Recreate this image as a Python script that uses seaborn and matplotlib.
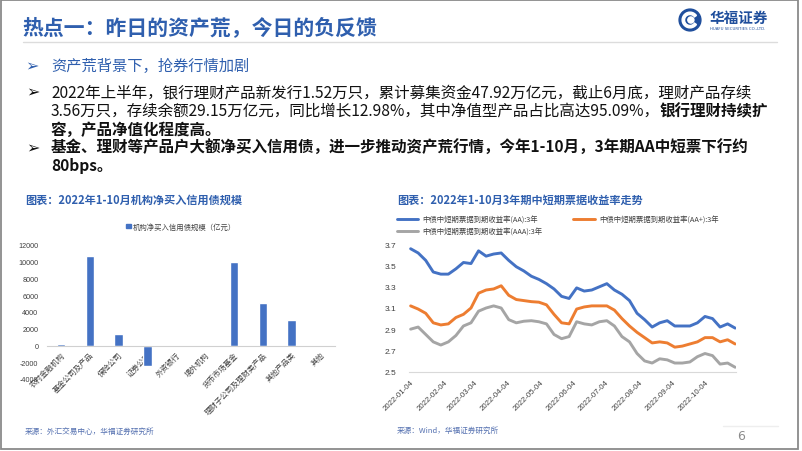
import matplotlib
matplotlib.use("Agg")
import matplotlib.pyplot as plt
import seaborn as sns
import pandas as pd
from matplotlib.patches import Rectangle, Circle, Wedge, Patch
from matplotlib.lines import Line2D

# ---------------- data ----------------
bar_categories = ['农村金融机构', '基金公司及产品', '保险公司', '证券公司', '外资银行',
                  '境外机构', '货币市场基金', '理财子公司及理财类产品', '其他产品类', '其他']
bar_values = [200, 10700, 1350, -2400, 0, -100, 10000, 5100, 3100, -100]
bar_series_name = '机构净买入信用债规模（亿元）'
bar_yticks = [-4000, -2000, 0, 2000, 4000, 6000, 8000, 10000, 12000]

line_start = '2022-01-04'
line_points = 44  # weekly readings
yield_aa = [3.66, 3.62, 3.55, 3.44, 3.42, 3.42, 3.47, 3.53, 3.52, 3.64,
            3.59, 3.61, 3.62, 3.55, 3.49, 3.45, 3.40, 3.37, 3.33, 3.28,
            3.21, 3.19, 3.29, 3.26, 3.27, 3.30, 3.33, 3.27, 3.23, 3.17,
            3.05, 2.99, 2.92, 2.96, 2.98, 2.93, 2.93, 2.93, 2.96, 3.02,
            3.00, 2.92, 2.95, 2.91]
yield_aa_plus = [3.12, 3.09, 3.05, 2.96, 2.94, 2.95, 3.01, 3.04, 3.10, 3.24,
                 3.27, 3.28, 3.31, 3.22, 3.18, 3.17, 3.16, 3.155, 3.13, 3.04,
                 2.96, 2.95, 3.09, 3.11, 3.12, 3.12, 3.12, 3.08, 3.00, 2.93,
                 2.87, 2.82, 2.77, 2.78, 2.77, 2.73, 2.74, 2.76, 2.78, 2.82,
                 2.82, 2.78, 2.80, 2.76]
yield_aaa = [2.90, 2.92, 2.85, 2.78, 2.75, 2.78, 2.84, 2.93, 2.96, 3.07,
             3.10, 3.12, 3.10, 2.99, 2.96, 2.975, 2.98, 2.97, 2.95, 2.85,
             2.81, 2.83, 2.97, 2.95, 2.94, 2.97, 2.98, 2.93, 2.83, 2.78,
             2.67, 2.60, 2.58, 2.62, 2.61, 2.58, 2.58, 2.59, 2.64, 2.67,
             2.65, 2.57, 2.58, 2.54]
line_names = ['中债中短期票据到期收益率(AA):3年',
              '中债中短期票据到期收益率(AA+):3年',
              '中债中短期票据到期收益率(AAA):3年']
line_colors = ['#4472C4', '#ED7D31', '#A5A5A5']
line_xticks = ['2022-01-04', '2022-02-04', '2022-03-04', '2022-04-04', '2022-05-04',
               '2022-06-04', '2022-07-04', '2022-08-04', '2022-09-04', '2022-10-04']
line_yticks = [2.5, 2.7, 2.9, 3.1, 3.3, 3.5, 3.7]

# ---------------- setup ----------------
sns.set_theme(style='white')
CJK = ['Noto Sans CJK SC', 'DejaVu Sans']
plt.rcParams['font.family'] = CJK
plt.rcParams['axes.unicode_minus'] = False

W, H = 802, 452
fig = plt.figure(figsize=(W / 100, H / 100), dpi=100)
fig.patch.set_facecolor('white')


def fx(x):
    return x / W


def fy(y):
    return 1 - y / H


def txt(x, y, s, **kw):
    kw.setdefault('va', 'center')
    kw.setdefault('ha', 'left')
    kw.setdefault('family', CJK)
    return fig.text(fx(x), fy(y), s, **kw)


BLUE_T = '#2f5fae'
SRC_C = '#5470b0'
BODY = 11.2

# slide frame & header
fig.add_artist(Rectangle((fx(0.8), fy(450)), 797.2 / W, 449.2 / H, transform=fig.transFigure,
                         fill=False, ec='#8a8a8a', lw=1.3))
fig.add_artist(Line2D([fx(23), fx(777)], [fy(43.3), fy(43.3)], color='#dcdcdc', lw=1))
txt(22, 27.5, '热点一：昨日的资产荒，今日的负反馈', fontsize=15, fontweight='bold', color=BLUE_T)

# logo
axl = fig.add_axes([fx(678), fy(33), 24 / W, 24 / H])
axl.set_xlim(-1.1, 1.1)
axl.set_ylim(-1.1, 1.1)
axl.set_aspect('equal')
axl.axis('off')
axl.add_patch(Circle((0, 0), 1, color='#1f4e9c'))
axl.add_patch(Wedge((0, 0), 0.72, 35, 325, width=0.22, color='white'))
axl.add_patch(Circle((0.08, 0), 0.28, color='white'))
txt(710, 17.5, '华福证券', fontsize=10.5, fontweight='bold', color='#1f4e9c')
txt(710, 29.5, 'HUAFU SECURITIES CO.,LTD.', fontsize=2.8, color='#1f4e9c', family='DejaVu Sans')

# bullets
txt(25, 66, '➢', fontsize=11.5, color=BLUE_T, fontweight='bold')
txt(51, 66, '资产荒背景下，抢券行情加剧', fontsize=11, color=BLUE_T)
txt(26, 92.5, '➢', fontsize=11.5, color='#111111', fontweight='bold')
txt(51, 92.5, '2022年上半年，银行理财产品新发行1.52万只，累计募集资金47.92万亿元，截止6月底，理财产品存续',
    fontsize=BODY, color='#111111')
t2 = txt(51, 111, '3.56万只，存续余额29.15万亿元，同比增长12.98%，其中净值型产品占比高达95.09%，',
         fontsize=BODY, color='#111111')
txt(51, 129.5, '容，产品净值化程度高。', fontsize=BODY, fontweight='bold', color='#111111')
txt(26, 148, '➢', fontsize=11.5, color='#111111', fontweight='bold')
txt(51, 148, '基金、理财等产品户大额净买入信用债，进一步推动资产荒行情，今年1-10月，3年期AA中短票下行约',
    fontsize=BODY, fontweight='bold', color='#111111')
txt(51, 166.5, '80bps。', fontsize=BODY, fontweight='bold', color='#111111')
fig.canvas.draw()
bb = t2.get_window_extent(renderer=fig.canvas.get_renderer())
txt(bb.x1, 111, '银行理财持续扩', fontsize=BODY, fontweight='bold', color='#111111')

# chart titles & sources
txt(25, 200, '图表：2022年1-10月机构净买入信用债规模', fontsize=8, fontweight='bold', color=BLUE_T)
txt(397, 200.5, '图表：2022年1-10月3年期中短期票据收益率走势', fontsize=8, fontweight='bold', color=BLUE_T)
txt(25, 433, '来源：外汇交易中心，华福证券研究所', fontsize=5.5, color=SRC_C)
txt(397, 430.5, '来源：Wind，华福证券研究所', fontsize=5.5, color=SRC_C)
fig.add_artist(Line2D([fx(723), fx(778)], [fy(427), fy(427)], color='#eeeeee', lw=1))
txt(737, 437, '6', fontsize=9, color='#8c8c8c', family='DejaVu Sans')

# ---------------- bar chart ----------------
ax1 = fig.add_axes([fx(46.6), fy(380), (335 - 46.6) / W, (380 - 246) / H])
bar_df = pd.DataFrame({'category': bar_categories, 'value': bar_values})
sns.barplot(data=bar_df, x='category', y='value', order=bar_categories, color='#4472C4',
            saturation=1, width=0.3, ax=ax1)
ax1.set_xlabel('')
ax1.set_ylabel('')
for s in ['top', 'right', 'left']:
    ax1.spines[s].set_visible(False)
ax1.spines['bottom'].set_position(('data', 0))
ax1.spines['bottom'].set_color('#d0d0d0')
ax1.spines['bottom'].set_linewidth(0.8)
ax1.set_xlim(-0.5, len(bar_categories) - 0.5)
ax1.set_ylim(bar_yticks[0], bar_yticks[-1])
ax1.set_yticks(bar_yticks, labels=[str(v) for v in bar_yticks], fontfamily='Liberation Sans',
               fontsize=5.2, color='#404040')
ax1.set_xticks(range(len(bar_categories)), labels=bar_categories, rotation=45, ha='right',
               va='top', rotation_mode='anchor', fontsize=5.5, color='#404040')
ax1.tick_params(axis='y', length=0, pad=6)
ax1.tick_params(axis='x', length=0, pad=3.5)
ax1.set_facecolor('none')
ax1.grid(False)
fig.legend(handles=[Patch(color='#4472C4')], labels=[bar_series_name], loc='center',
           bbox_to_anchor=(fx(181), fy(227.7)), bbox_transform=fig.transFigure, frameon=False,
           fontsize=5.3, handlelength=0.6, handleheight=0.6, handletextpad=0.2,
           borderpad=0, borderaxespad=0, labelcolor='#404040')

# ---------------- line chart ----------------
dates = pd.date_range(line_start, periods=line_points, freq='7D')
wide = pd.DataFrame({'date': dates, line_names[0]: yield_aa,
                     line_names[1]: yield_aa_plus, line_names[2]: yield_aaa})
long = wide.melt(id_vars='date', var_name='series', value_name='value')
ax2 = fig.add_axes([fx(409), fy(372.5), (735.7 - 409) / W, (372.5 - 245.5) / H])
sns.lineplot(data=long, x='date', y='value', hue='series', hue_order=line_names,
             palette=line_colors, linewidth=2.1, legend=False, ax=ax2)
ax2.set_xlim(dates[0] - pd.Timedelta(days=1.5), dates[-1] + pd.Timedelta(days=0.5))
ax2.set_ylim(line_yticks[0], line_yticks[-1])
ax2.set_yticks(line_yticks, labels=[f'{v:.1f}' for v in line_yticks], fontfamily='Liberation Sans',
               fontsize=6, color='#404040')
ax2.set_xticks(pd.to_datetime(line_xticks), labels=line_xticks, rotation=45, ha='right', va='top',
               rotation_mode='anchor', fontfamily='Liberation Sans', fontsize=5.6, color='#404040')
ax2.set_xlabel('')
ax2.set_ylabel('')
for s in ['top', 'right', 'left']:
    ax2.spines[s].set_visible(False)
ax2.spines['bottom'].set_color('#d9d9d9')
ax2.spines['bottom'].set_linewidth(0.8)
ax2.tick_params(axis='y', length=0, pad=9)
ax2.tick_params(axis='x', length=0, pad=5)
ax2.set_facecolor('none')
ax2.grid(False)

handles = [Line2D([], [], color=c, lw=2.1) for c in line_colors]
order = [0, 2, 1]
fig.legend(handles=[handles[i] for i in order], labels=[line_names[i] for i in order],
           loc='upper left', ncol=2, bbox_to_anchor=(fx(397), fy(216.5)),
           bbox_transform=fig.transFigure, frameon=False, fontsize=5.3, handlelength=2.9,
           handletextpad=0.55, columnspacing=4.2, labelspacing=0.55, borderpad=0,
           borderaxespad=0, labelcolor='#404040')

fig.savefig('out.png', dpi=100)
